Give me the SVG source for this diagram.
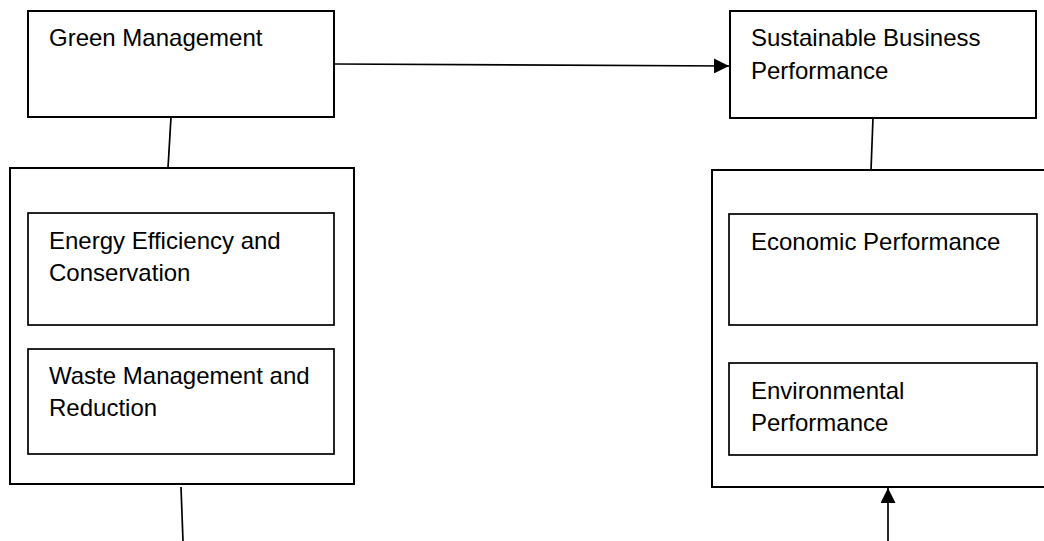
<svg xmlns="http://www.w3.org/2000/svg" width="1044" height="541" viewBox="0 0 1044 541">
<style>
.box{fill:#fff;stroke:#000;stroke-width:2}
.inner{fill:#fff;stroke:#000;stroke-width:1.7}
.conn{fill:none;stroke:#000;stroke-width:1.7}
text{font-family:"Liberation Sans",Arial,sans-serif;font-size:24px;fill:#000}
</style>
<defs>
<marker id="arr" viewBox="0 0 10 10" refX="10" refY="5" markerWidth="15" markerHeight="15" markerUnits="userSpaceOnUse" orient="auto">
<path d="M0,0 L10,5 L0,10 Z" fill="#000"/>
</marker>
</defs>
<g id="green-management">
<rect class="box" x="28" y="11" width="306" height="106"/>
<text x="49" y="46">Green Management</text>
</g>
<g id="sustainable-business-performance">
<rect class="box" x="730" y="11" width="306" height="107"/>
<text x="751" y="46">Sustainable Business</text>
<text x="751" y="79">Performance</text>
</g>
<g id="green-management-group">
<rect class="box" x="10" y="168" width="344" height="316"/>
</g>
<g id="energy-efficiency">
<rect class="inner" x="28" y="213" width="306" height="112"/>
<text x="49" y="249">Energy Efficiency and</text>
<text x="49" y="281">Conservation</text>
</g>
<g id="waste-management">
<rect class="inner" x="28" y="349" width="306" height="105"/>
<text x="49" y="384">Waste Management and</text>
<text x="49" y="416">Reduction</text>
</g>
<g id="performance-group">
<rect class="box" x="712" y="170" width="340" height="317"/>
</g>
<g id="economic-performance">
<rect class="inner" x="729" y="214" width="308" height="111"/>
<text x="751" y="250">Economic Performance</text>
</g>
<g id="environmental-performance">
<rect class="inner" x="729" y="363" width="308" height="92"/>
<text x="751" y="399">Environmental</text>
<text x="751" y="431">Performance</text>
</g>
<g id="connectors">
<line class="conn" x1="335" y1="64" x2="729" y2="66" marker-end="url(#arr)"/>
<line class="conn" x1="171" y1="117" x2="168" y2="168"/>
<line class="conn" x1="873" y1="118" x2="871" y2="170"/>
<line class="conn" x1="181" y1="487" x2="183" y2="541"/>
<line class="conn" x1="888" y1="541" x2="888" y2="488" marker-end="url(#arr)"/>
</g>
</svg>
